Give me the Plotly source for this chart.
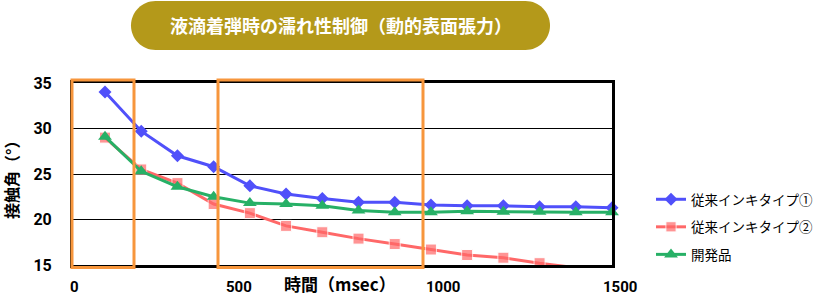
import plotly.graph_objects as go

# ---- data ----
time_ms = [100, 200, 300, 400, 500, 600, 700, 800, 900, 1000, 1100, 1200, 1300, 1400, 1500]
ink1 = [34.0, 29.7, 27.0, 25.8, 23.7, 22.8, 22.3, 21.9, 21.9, 21.6, 21.5, 21.5, 21.4, 21.4, 21.3]
ink2 = [29.0, 25.5, 24.0, 21.7, 20.7, 19.3, 18.6, 17.9, 17.3, 16.7, 16.1, 15.8, 15.2, 14.7]
dev = [29.1, 25.3, 23.6, 22.5, 21.8, 21.7, 21.5, 21.0, 20.8, 20.8, 20.9, 20.85, 20.85, 20.8, 20.8]
names = ["従来インキタイプ①", "従来インキタイプ②", "開発品"]
y_ticks = [15, 20, 25, 30, 35]
x_tick_labels = ["0", "500", "1000", "1500"]
title_text = "液滴着弾時の濡れ性制御（動的表面張力）"
x_title = "時間（msec）"
y_title = "接触角（°）"

# ---- layout geometry (pixels) ----
W, H = 820, 296
L, R, T, B = 73, 612, 83, 265
FONT = "Noto Sans CJK JP"
NUMFONT = "Roboto"

def px(x):
    return (x - L) / (R - L)

def py(y):
    return (B - y) / (B - T)

fig = go.Figure()
fig.add_trace(go.Scatter(
    x=time_ms, y=ink1, name=names[0], mode="lines+markers", legendgroup="a",
    line=dict(color="#5050FA", width=3),
    marker=dict(symbol="diamond", size=10, color="#5050FA"),
    cliponaxis=False))
fig.add_trace(go.Scatter(
    x=time_ms[:len(ink2)], y=ink2, name=names[1], mode="lines+markers", legendgroup="b",
    line=dict(color="#FF6868", width=3),
    marker=dict(symbol="square", size=[11] * (len(ink2) - 1) + [0], color="#FF6868"),
    cliponaxis=True))
fig.add_trace(go.Scatter(
    x=time_ms, y=dev, name=names[2], mode="lines+markers", legendgroup="c",
    line=dict(color="#27B066", width=3),
    marker=dict(symbol="triangle-up", size=12, color="#27B066"),
    cliponaxis=False))

shapes = []
# title pill
x0, x1, y0, y1 = 131, 550, 1, 50
r = (y1 - y0) / 2
k = 0.5523 * r
pts = (f"M {px(x0 + r)},{py(y0)} L {px(x1 - r)},{py(y0)} "
       f"C {px(x1 - r + k)},{py(y0)} {px(x1)},{py(y0 + r - k)} {px(x1)},{py(y0 + r)} "
       f"C {px(x1)},{py(y0 + r + k)} {px(x1 - r + k)},{py(y1)} {px(x1 - r)},{py(y1)} "
       f"L {px(x0 + r)},{py(y1)} "
       f"C {px(x0 + r - k)},{py(y1)} {px(x0)},{py(y0 + r + k)} {px(x0)},{py(y0 + r)} "
       f"C {px(x0)},{py(y0 + r - k)} {px(x0 + r - k)},{py(y0)} {px(x0 + r)},{py(y0)} Z")
shapes.append(dict(type="path", xref="paper", yref="paper", path=pts,
                   fillcolor="#B4991A", line=dict(width=0), layer="above"))
# orange highlight boxes
for bx0, bx1 in [(72, 134), (218, 423)]:
    shapes.append(dict(type="rect", xref="paper", yref="paper",
                       x0=px(bx0), x1=px(bx1), y0=py(80), y1=py(267.5),
                       line=dict(color="#F7963C", width=3), fillcolor="rgba(0,0,0,0)",
                       layer="above"))

def ann(text, x, y, size, color="black", angle=0, family=FONT):
    return dict(text=text, x=px(x), y=py(y), xref="paper", yref="paper",
                xanchor="center", yanchor="middle", textangle=angle, showarrow=False,
                borderpad=0,
                font=dict(family=family, size=size, color=color, weight="bold"))

annotations = [
    ann(title_text, 341, 25, 18, "white"),
    ann(x_title, 340, 283, 17),
    ann(y_title, 11, 176, 16, angle=-90),
]
label_px = [74, 239, 443, 620]
for lab, lx in zip(x_tick_labels, label_px):
    annotations.append(ann(lab, lx, 287, 15, family=NUMFONT))

fig.update_layout(
    width=W, height=H,
    margin=dict(l=L, r=W - R, t=T, b=H - B, pad=0, autoexpand=False),
    paper_bgcolor="white", plot_bgcolor="white",
    font=dict(family=FONT, color="black"),
    xaxis=dict(range=[11.6, 1500], showgrid=False, zeroline=False, showticklabels=False,
               ticks="", showline=True, mirror=True, linecolor="black", linewidth=3),
    yaxis=dict(range=[15, 35], tickvals=y_ticks, showgrid=True, gridcolor="black",
               gridwidth=1, zeroline=False, ticks="", showline=True, mirror=True,
               linecolor="black", linewidth=3, ticklabelstandoff=15,
               tickfont=dict(family=NUMFONT, size=16, color="black", weight="bold")),
    showlegend=True,
    legend=dict(x=651 / W, y=1 - 184 / H, xref="container", yref="container",
                xanchor="left", yanchor="top",
                font=dict(family=FONT, size=13.5, color="black"),
                traceorder="grouped", tracegroupgap=7, bgcolor="rgba(0,0,0,0)"),
    shapes=shapes,
    annotations=annotations,
)

fig.write_html("out.html")
